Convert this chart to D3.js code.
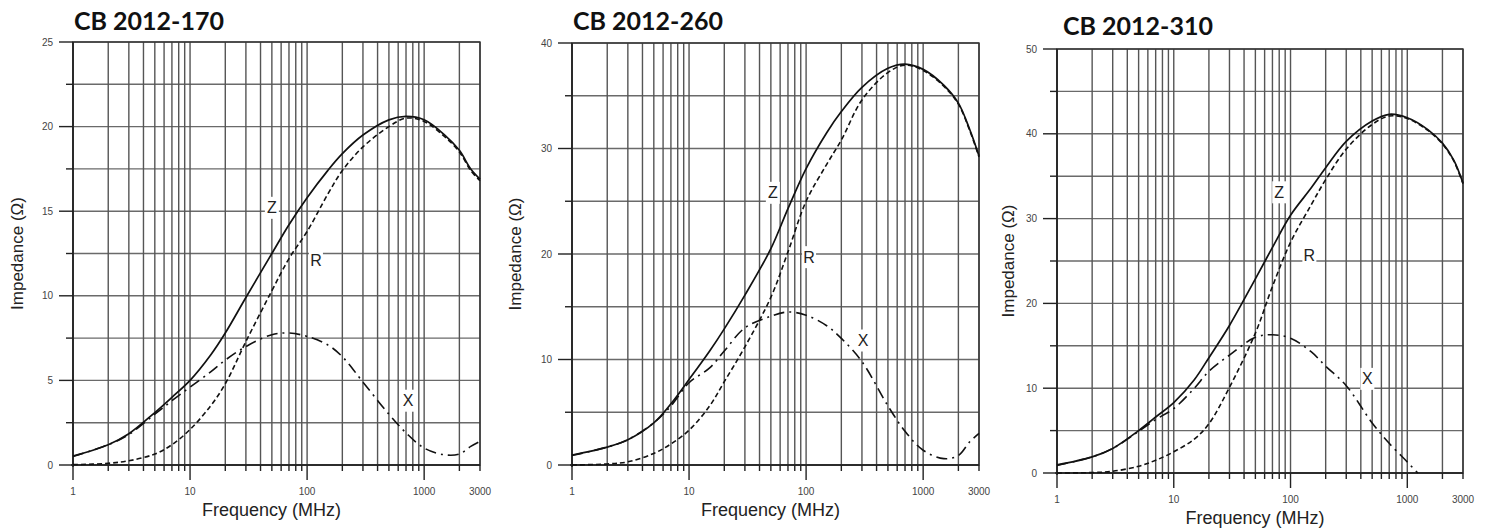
<!DOCTYPE html>
<html>
<head>
<meta charset="utf-8">
<script src="https://cdn.jsdelivr.net/npm/d3@7"></script>
<style>
  body { margin: 0; background: #fff; }
  svg { display: block; }
</style>
</head>
<body>
<div id="chart"></div>
<script>
// shared frequency points (MHz)
var freqs = [1, 2, 3, 5, 7, 10, 15, 20, 30, 50, 70, 100, 150, 200, 300, 500, 700, 1000, 1500, 2000, 2500, 3000];

// CB 2012-170
var z170 = [0.53, 1.2, 1.85, 3.1, 4.0, 5.0, 6.5, 7.8, 9.9, 12.5, 14.2, 15.8, 17.4, 18.4, 19.5, 20.4, 20.6, 20.4, 19.5, 18.6, 17.5, 16.9];
var r170 = [0.02, 0.1, 0.25, 0.65, 1.2, 2.1, 3.5, 4.8, 7.3, 10.3, 12.2, 13.8, 16.0, 17.4, 18.8, 20.0, 20.5, 20.3, 19.4, 18.5, 17.4, 16.8];
var x170 = [0.5, 1.2, 1.8, 3.0, 3.8, 4.6, 5.5, 6.2, 7.0, 7.7, 7.8, 7.6, 7.1, 6.4, 4.9, 3.0, 1.9, 1.0, 0.6, 0.65, 1.1, 1.4];

// CB 2012-260
var z260 = [0.95, 1.7, 2.4, 4.0, 5.8, 8.1, 10.8, 12.9, 16.1, 20.5, 24.3, 28.1, 31.5, 33.5, 35.8, 37.6, 38.0, 37.5, 36.0, 34.3, 31.8, 29.3];
var r260 = [0.0, 0.1, 0.3, 1.1, 2.0, 3.3, 5.6, 7.9, 11.2, 15.9, 20.2, 25.0, 28.5, 30.8, 34.6, 37.2, 37.9, 37.4, 35.9, 34.2, 31.7, 29.2];
var x260 = [0.9, 1.7, 2.4, 4.0, 5.6, 7.8, 9.2, 10.8, 13.0, 14.1, 14.5, 14.2, 13.2, 12.0, 9.8, 5.6, 3.2, 1.4, 0.6, 0.9, 2.2, 3.0];

// CB 2012-310
var z310 = [0.95, 1.9, 2.9, 5.0, 6.6, 8.3, 11.0, 13.6, 17.4, 22.9, 26.6, 30.4, 33.6, 36.0, 39.1, 41.5, 42.3, 41.9, 40.5, 38.9, 36.9, 34.2];
var r310 = [0.0, 0.05, 0.2, 0.8, 1.5, 2.5, 4.0, 5.8, 10.1, 16.5, 22.0, 27.2, 31.6, 34.6, 38.2, 41.1, 42.1, 41.8, 40.4, 38.8, 36.8, 34.1];
var x310Freqs = [1, 2, 3, 5, 7, 10, 15, 20, 30, 50, 70, 100, 150, 200, 300, 500, 700, 1000, 1230];
var x310 = [0.9, 1.9, 2.9, 4.9, 6.3, 7.6, 10.0, 12.0, 13.9, 16.0, 16.3, 15.9, 14.3, 12.6, 10.3, 5.9, 3.5, 1.3, 0.0];

// curve labels: [name, freq, impedance]
var labels170 = [["Z", 50, 15.2], ["R", 119, 12.1], ["X", 730, 3.8]];
var labels260 = [["Z", 52, 25.8], ["R", 106, 19.7], ["X", 307, 11.8]];
var labels310 = [["Z", 80, 33.1], ["R", 145, 25.6], ["X", 455, 11.1]];

var xTickLabels = [1, 10, 100, 1000, 3000];
var titles = ["CB 2012-170", "CB 2012-260", "CB 2012-310"];
var yMaxes = [25, 40, 50];
var yMajor = [5, 10, 10];

var panels = [
  { left: 73, top: 42, right: 480, bottom: 465, titleX: 74, titleY: 30, ytX: 17,
    z: z170, r: r170, x: x170, xf: freqs, labels: labels170 },
  { left: 572, top: 43, right: 979, bottom: 465, titleX: 573, titleY: 30, ytX: 515,
    z: z260, r: r260, x: x260, xf: freqs, labels: labels260 },
  { left: 1057, top: 49, right: 1463, bottom: 473, titleX: 1063, titleY: 35, ytX: 1008,
    z: z310, r: r310, x: x310, xf: x310Freqs, labels: labels310 }
];

var svg = d3.select("#chart").append("svg")
  .attr("width", 1491)
  .attr("height", 531);

// grid line frequencies: 1..9 per decade, plus 1000, 2000, 3000
var gridFreqs = [];
for (var d = 1; d <= 100; d *= 10) {
  for (var m = 1; m < 10; m++) gridFreqs.push(m * d);
}
gridFreqs.push(1000, 2000, 3000);

panels.forEach(function(p, i) {
  var xs = d3.scaleLog().domain([1, 3000]).range([p.left, p.right]);
  var ys = d3.scaleLinear().domain([0, yMaxes[i]]).range([p.bottom, p.top]);
  var g = svg.append("g");

  var yMinorStep = yMajor[i] / 2;
  var yVals = d3.range(0, yMaxes[i] + 0.001, yMinorStep);

  // horizontal grid
  g.selectAll(".hgrid").data(yVals).enter().append("line")
    .attr("x1", p.left).attr("x2", p.right)
    .attr("y1", function(v) { return ys(v); })
    .attr("y2", function(v) { return ys(v); })
    .style("stroke", "#6a6a6a").style("stroke-width", 1.4);

  // vertical grid
  g.selectAll(".vgrid").data(gridFreqs).enter().append("line")
    .attr("x1", function(f) { return xs(f); })
    .attr("x2", function(f) { return xs(f); })
    .attr("y1", p.top).attr("y2", p.bottom)
    .style("stroke", "#555").style("stroke-width", 1.4);

  // frame
  g.append("rect")
    .attr("x", p.left).attr("y", p.top)
    .attr("width", p.right - p.left).attr("height", p.bottom - p.top)
    .style("fill", "none").style("stroke", "#333").style("stroke-width", 1.4);

  // left and bottom axes, dark
  g.append("line").attr("x1", p.left).attr("x2", p.left).attr("y1", p.top).attr("y2", p.bottom + 2)
    .style("stroke", "#222").style("stroke-width", 1.6);
  g.append("line").attr("x1", p.left - 2).attr("x2", p.right).attr("y1", p.bottom).attr("y2", p.bottom)
    .style("stroke", "#222").style("stroke-width", 1.6);

  // y ticks
  g.selectAll(".ytick").data(yVals).enter().append("line")
    .attr("x1", function(v) { return v % yMajor[i] === 0 ? p.left - 14 : p.left - 7; })
    .attr("x2", p.left)
    .attr("y1", function(v) { return ys(v); })
    .attr("y2", function(v) { return ys(v); })
    .style("stroke", "#222").style("stroke-width", 1.4);

  g.selectAll(".ylab").data(yVals.filter(function(v) { return v % yMajor[i] === 0; }))
    .enter().append("text")
    .attr("x", p.left - 20)
    .attr("y", function(v) { return ys(v) + 3.5; })
    .attr("text-anchor", "end")
    .style("font-family", "Liberation Sans, Arial, sans-serif")
    .style("font-size", "10px")
    .style("fill", "#444")
    .text(function(v) { return v; });

  // x ticks
  var majors = [1, 10, 100, 1000];
  g.selectAll(".xtick").data(gridFreqs).enter().append("line")
    .attr("x1", function(f) { return xs(f); })
    .attr("x2", function(f) { return xs(f); })
    .attr("y1", p.bottom)
    .attr("y2", function(f) { return majors.indexOf(f) >= 0 ? p.bottom + 15 : p.bottom + 6; })
    .style("stroke", "#222").style("stroke-width", 1.4);

  g.selectAll(".xlab").data(xTickLabels).enter().append("text")
    .attr("x", function(f) { return xs(f); })
    .attr("y", p.bottom + 30)
    .attr("text-anchor", "middle")
    .style("font-family", "Liberation Sans, Arial, sans-serif")
    .style("font-size", "10px")
    .style("fill", "#444")
    .text(function(f) { return f; });

  // axis titles
  g.append("text")
    .attr("x", (p.left + p.right) / 2 - 5)
    .attr("y", p.bottom + 51)
    .attr("text-anchor", "middle")
    .style("font-family", "Liberation Sans, Arial, sans-serif")
    .style("font-size", "18px")
    .style("fill", "#222")
    .text("Frequency (MHz)");

  var ytY = (p.top + p.bottom) / 2;
  g.append("text")
    .attr("transform", "translate(" + (p.ytX + 6) + "," + ytY + ") rotate(-90)")
    .attr("text-anchor", "middle")
    .style("font-family", "Liberation Sans, Arial, sans-serif")
    .style("font-size", "17px")
    .style("fill", "#222")
    .text("Impedance (\u03A9)");

  // title
  g.append("text")
    .attr("x", p.titleX).attr("y", p.titleY)
    .style("font-family", "Lato, 'Open Sans', sans-serif")
    .style("font-weight", "bold")
    .style("font-size", "25px")
    .style("fill", "#111")
    .text(titles[i]);

  // curves
  var line = d3.line()
    .x(function(d) { return xs(d[0]); })
    .y(function(d) { return ys(d[1]); })
    .curve(d3.curveCatmullRom.alpha(0.5));

  function pairs(fs, vs) { return fs.map(function(f, k) { return [f, vs[k]]; }); }

  g.append("path").attr("d", line(pairs(freqs, p.r)))
    .style("fill", "none").style("stroke", "#111").style("stroke-width", 1.6)
    .style("stroke-dasharray", "5,3");
  g.append("path").attr("d", line(pairs(p.xf, p.x)))
    .style("fill", "none").style("stroke", "#111").style("stroke-width", 1.6)
    .style("stroke-dasharray", "11,5,2,5");
  g.append("path").attr("d", line(pairs(freqs, p.z)))
    .style("fill", "none").style("stroke", "#111").style("stroke-width", 1.7);

  // curve labels with white background
  var lab = g.selectAll(".clab").data(p.labels).enter().append("g")
    .attr("transform", function(d) { return "translate(" + xs(d[1]) + "," + ys(d[2]) + ")"; });
  lab.append("rect")
    .attr("x", -7).attr("y", -11).attr("width", 14).attr("height", 22)
    .style("fill", "#fff");
  lab.append("text")
    .attr("text-anchor", "middle")
    .attr("y", 5.5)
    .style("font-family", "Liberation Sans, Arial, sans-serif")
    .style("font-size", "16px")
    .style("fill", "#222")
    .text(function(d) { return d[0]; });
});
</script>
</body>
</html>
